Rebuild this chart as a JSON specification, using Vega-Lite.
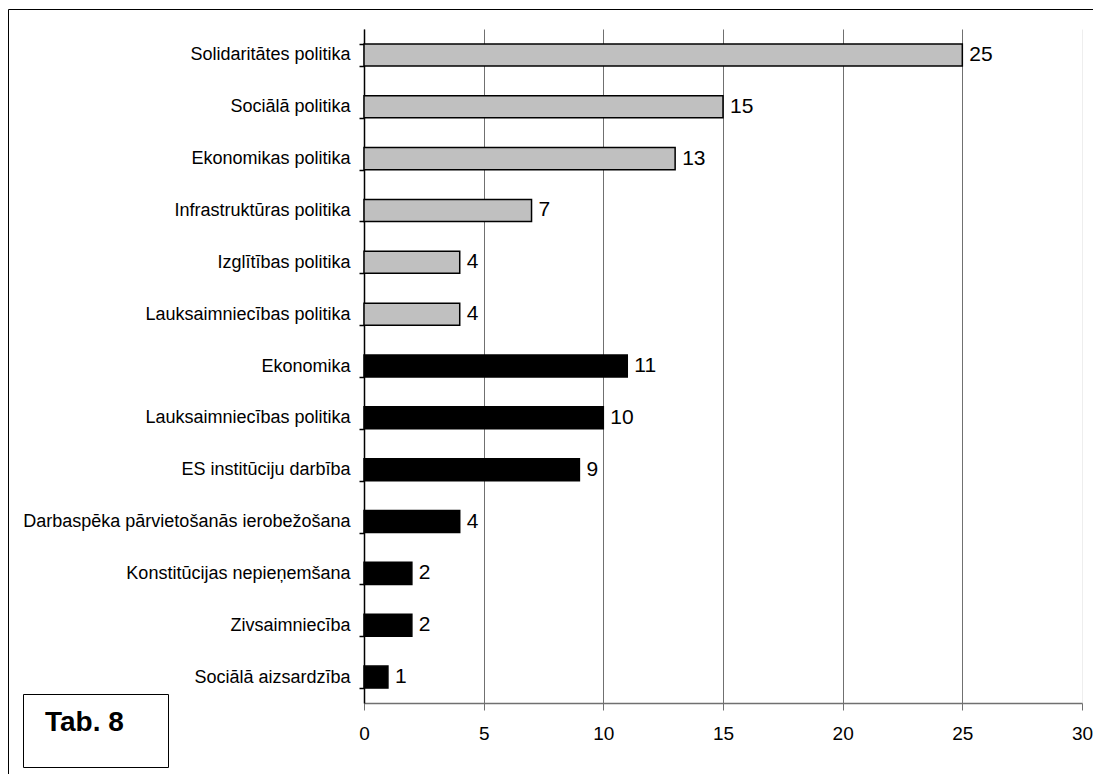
{
  "$schema": "https://vega.github.io/schema/vega-lite/v6.json",
  "width": 718,
  "height": 674,
  "autosize": "none",
  "padding": {"left": 364, "top": 29, "right": 11, "bottom": 71},
  "background": "white",
  "config": {"view": {"stroke": null}, "font": "Liberation Sans"},
  "data": {
    "values": [
      {"key": "Solidaritātes politika|A", "n": 25, "group": "A"},
      {"key": "Sociālā politika|A", "n": 15, "group": "A"},
      {"key": "Ekonomikas politika|A", "n": 13, "group": "A"},
      {"key": "Infrastruktūras politika|A", "n": 7, "group": "A"},
      {"key": "Izglītības politika|A", "n": 4, "group": "A"},
      {"key": "Lauksaimniecības politika|A", "n": 4, "group": "A"},
      {"key": "Ekonomika|B", "n": 11, "group": "B"},
      {"key": "Lauksaimniecības politika|B", "n": 10, "group": "B"},
      {"key": "ES institūciju darbība|B", "n": 9, "group": "B"},
      {"key": "Darbaspēka pārvietošanās ierobežošana|B", "n": 4, "group": "B"},
      {"key": "Konstitūcijas nepieņemšana|B", "n": 2, "group": "B"},
      {"key": "Zivsaimniecība|B", "n": 2, "group": "B"},
      {"key": "Sociālā aizsardzība|B", "n": 1, "group": "B"}
    ]
  },
  "encoding": {
    "y": {
      "field": "key",
      "type": "nominal",
      "sort": null,
      "scale": {"paddingInner": 0.575, "paddingOuter": 0.2875},
      "axis": {
        "title": null,
        "labelExpr": "split(datum.label, '|')[0]",
        "labelFont": "Liberation Sans",
        "labelFontSize": 18,
        "labelColor": "black",
        "labelPadding": 9,
        "labelLimit": 0,
        "tickBand": "extent",
        "tickColor": "black",
        "tickSize": 5,
        "tickWidth": 1.5,
        "domainColor": "black",
        "domainWidth": 1.5
      }
    },
    "x": {
      "field": "n",
      "type": "quantitative",
      "scale": {"domain": [0, 30]},
      "axis": {
        "title": null,
        "values": [0, 5, 10, 15, 20, 25, 30],
        "grid": true,
        "gridColor": {"condition": {"test": "datum.value == 30", "value": "#eeeeee"}, "value": "#707070"},
        "domainColor": "#707070",
        "domainWidth": 1.5,
        "tickColor": "#707070",
        "tickSize": 7,
        "labelFont": "Liberation Sans",
        "labelFontSize": 19,
        "labelColor": "black",
        "labelPadding": 14,
        "labelFlush": false
      }
    }
  },
  "layer": [
    {
      "mark": {"type": "bar", "stroke": "black", "strokeWidth": 1.5},
      "encoding": {
        "color": {
          "field": "group",
          "type": "nominal",
          "scale": {"domain": ["A", "B"], "range": ["#c0c0c0", "#000000"]},
          "legend": {
            "title": null,
            "orient": "none",
            "legendX": -356,
            "legendY": -20,
            "values": ["A"],
            "strokeColor": "black",
            "padding": 0,
            "symbolType": "M-1,-1M1,1",
            "symbolSize": 1440000,
            "symbolStrokeWidth": 0,
            "labelExpr": "''",
            "encode": {
              "legend": {"update": {"strokeWidth": {"value": 2}}}
            }
          }
        }
      }
    },
    {
      "mark": {"type": "text", "align": "left", "baseline": "middle", "dx": 7, "fontSize": 21, "font": "Liberation Sans", "color": "black"},
      "encoding": {
        "text": {"field": "n", "type": "quantitative"},
        "opacity": {
          "datum": "Tab. 8",
          "type": "ordinal",
          "scale": {"range": [1, 1]},
          "legend": {
            "title": ".",
            "titleOrient": "right",
            "titleOpacity": 0,
            "titleFontSize": 11,
            "titlePadding": 40,
            "orient": "none",
            "legendX": -341,
            "legendY": 665,
            "strokeColor": "black",
            "padding": 0,
            "symbolType": "M-1,-1M1,1",
            "symbolSize": 5329,
            "symbolStrokeWidth": 0,
            "labelOffset": -51,
            "labelFont": "Liberation Sans",
            "labelFontWeight": "bold",
            "labelFontSize": 28,
            "labelBaseline": "alphabetic",
            "labelLimit": 0,
            "labelExpr": "'Tab. 8'",
            "encode": {
              "legend": {"update": {"strokeWidth": {"value": 1.5}}}
            }
          }
        }
      }
    }
  ]
}
